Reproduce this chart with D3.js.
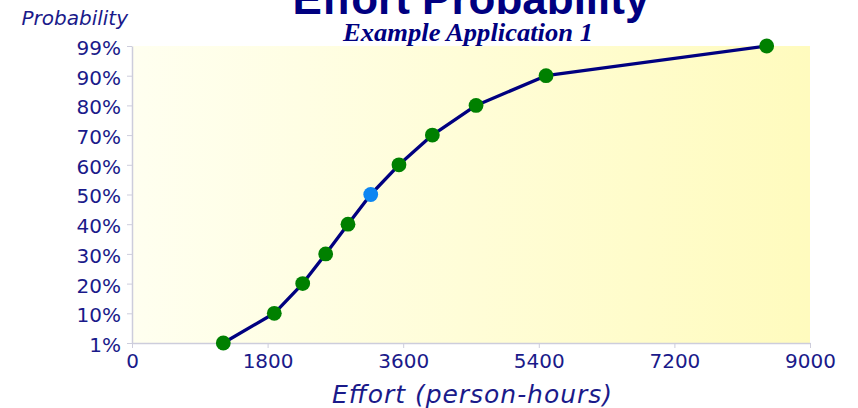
<!DOCTYPE html>
<html>
<head>
<meta charset="utf-8">
<script src="https://cdn.jsdelivr.net/npm/d3@7"></script>
<style>
  html, body { margin: 0; padding: 0; background: #ffffff; }
  svg { display: block; }
</style>
</head>
<body>
<svg id="chart" width="858" height="408"></svg>
<script>
// Cumulative probability levels (y axis categories)
const probabilityLevels = ["1%", "10%", "20%", "30%", "40%", "50%", "60%", "70%", "80%", "90%", "99%"];
// Effort in person-hours required at each probability level
const effortHours = [1212, 1889, 2266, 2571, 2867, 3169, 3544, 3987, 4567, 5496, 8425];
// Effort axis ticks
const effortTicks = [0, 1800, 3600, 5400, 7200, 9000];
// The median level is marked in a different colour
const highlightLevel = "50%";

const svg = d3.select("#chart");
const margin = { left: 132, right: 48, top: 46, bottom: 65 };
const W = 858, H = 408;
const plotW = W - margin.left - margin.right;
const plotH = H - margin.top - margin.bottom;

const x = d3.scaleLinear().domain([0, 9000]).range([margin.left, margin.left + plotW]);
const y = d3.scalePoint().domain(probabilityLevels).range([margin.top + plotH, margin.top]);

const labelColor = "#1a1a8a";
const axisColor = "#cdcddc";

// Plot background: pale yellow gradient, lighter on the left
const defs = svg.append("defs");
const grad = defs.append("linearGradient").attr("id", "bg").attr("x1", "0").attr("x2", "1").attr("y1", "0").attr("y2", "0");
grad.append("stop").attr("offset", "0%").attr("stop-color", "#fffff0");
grad.append("stop").attr("offset", "100%").attr("stop-color", "#fffbbe");

svg.append("rect")
  .attr("x", margin.left).attr("y", margin.top)
  .attr("width", plotW).attr("height", plotH)
  .attr("fill", "url(#bg)");

// Titles
svg.append("text")
  .attr("x", 471).attr("y", 14)
  .attr("text-anchor", "middle")
  .attr("font-family", "'Liberation Sans', Arial, sans-serif")
  .attr("font-weight", "bold")
  .attr("font-size", 44)
  .attr("fill", "#000080")
  .text("Effort Probability");

svg.append("text")
  .attr("x", 468).attr("y", 40.5)
  .attr("text-anchor", "middle")
  .attr("font-family", "'Liberation Serif', 'Times New Roman', serif")
  .attr("font-weight", "bold")
  .attr("font-style", "italic")
  .attr("font-size", 25)
  .attr("textLength", 250)
  .attr("lengthAdjust", "spacingAndGlyphs")
  .attr("fill", "#000080")
  .text("Example Application 1");

// Y axis title
svg.append("text")
  .attr("x", 128).attr("y", 25)
  .attr("text-anchor", "end")
  .attr("font-family", "'DejaVu Sans', Verdana, sans-serif")
  .attr("font-style", "italic")
  .attr("font-size", 20)
  .attr("fill", labelColor)
  .text("Probability");

// X axis
const xAxis = svg.append("g")
  .attr("transform", `translate(0,${margin.top + plotH})`)
  .call(d3.axisBottom(x).tickValues(effortTicks).tickSize(5).tickPadding(6).tickSizeOuter(0).tickFormat(d3.format("d")));
xAxis.select(".domain").attr("stroke", axisColor).attr("stroke-width", 1.5);
xAxis.selectAll(".tick line").attr("stroke", axisColor);
xAxis.selectAll(".tick text")
  .attr("font-family", "'DejaVu Sans', Verdana, sans-serif")
  .attr("font-size", 20)
  .attr("fill", labelColor)
  .attr("dy", "0.7em");

// Y axis
const yAxis = svg.append("g")
  .attr("transform", `translate(${margin.left},0)`)
  .call(d3.axisLeft(y).tickSize(5).tickPadding(6).tickSizeOuter(0));
yAxis.select(".domain").attr("stroke", axisColor).attr("stroke-width", 1.5);
yAxis.selectAll(".tick line").attr("stroke", axisColor);
yAxis.selectAll(".tick text")
  .attr("font-family", "'DejaVu Sans', Verdana, sans-serif")
  .attr("font-size", 20)
  .attr("fill", labelColor)
  .attr("dy", "0.42em");

// X axis title
svg.append("text")
  .attr("x", 472).attr("y", 402.5)
  .attr("text-anchor", "middle")
  .attr("font-family", "'DejaVu Sans', Verdana, sans-serif")
  .attr("font-style", "italic")
  .attr("font-size", 25)
  .attr("textLength", 280)
  .attr("lengthAdjust", "spacing")
  .attr("fill", labelColor)
  .text("Effort (person-hours)");

// Curve and points
const points = probabilityLevels.map((p, i) => ({ level: p, effort: effortHours[i] }));

svg.append("path")
  .datum(points)
  .attr("fill", "none")
  .attr("stroke", "#000080")
  .attr("stroke-width", 3.3)
  .attr("stroke-linejoin", "round")
  .attr("d", d3.line().x(d => x(d.effort)).y(d => y(d.level)));

svg.append("g").selectAll("circle")
  .data(points)
  .join("circle")
  .attr("cx", d => x(d.effort))
  .attr("cy", d => y(d.level))
  .attr("r", 7.4)
  .attr("fill", d => d.level === highlightLevel ? "#0d86f2" : "#008000");
</script>
</body>
</html>
